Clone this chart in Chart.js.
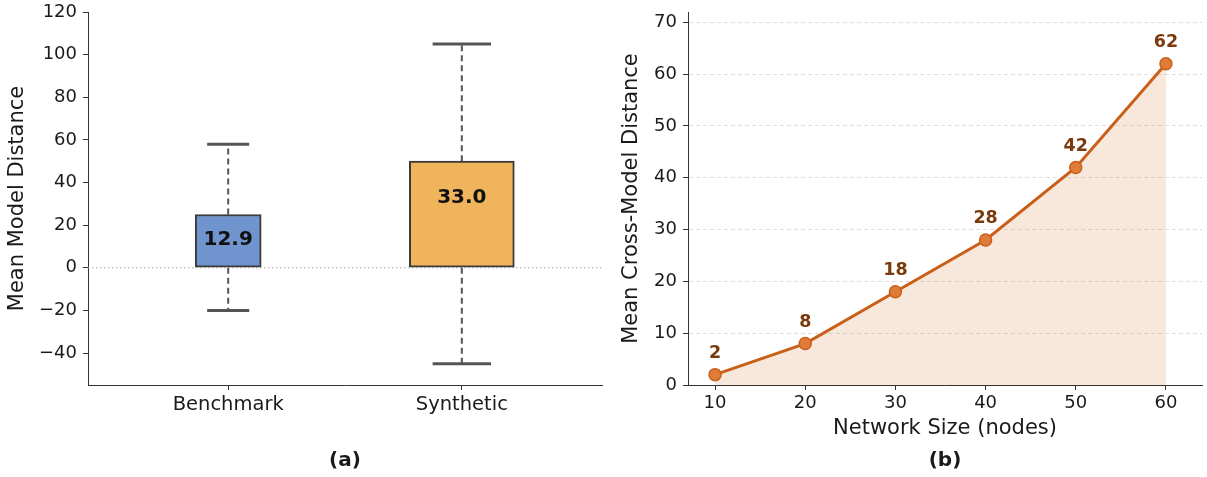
<!DOCTYPE html>
<html><head><meta charset="utf-8">
<script src="https://cdn.jsdelivr.net/npm/chart.js@4"></script>
<style>
html,body{margin:0;padding:0;background:#fff;}
#wrap{position:relative;width:1207px;height:477px;overflow:hidden;}
#c1{position:absolute;left:0;top:0;}
#c2{position:absolute;left:606px;top:0;}
</style></head><body>
<div id="wrap"><canvas id="c1" width="606" height="477"></canvas><canvas id="c2" width="601" height="477"></canvas></div>
<script>
// ---- Data: panel (a) ----
const groups = ['Benchmark', 'Synthetic'];
const boxLow = [0, 0];
const boxHigh = [25, 50];
const whiskerLow = [-20, -45];
const whiskerHigh = [58, 105];
const groupMeans = [12.9, 33.0];

// ---- Data: panel (b) ----
const networkSizes = [10, 20, 30, 40, 50, 60];
const crossModelDistance = [2, 8, 18, 28, 42, 62];

// ---- Styles ----
const FONT = "'DejaVu Sans', sans-serif";
const TXT = '#1a1a1a';
const boxColors = ['#7094CE', '#F0B45C'];
const boxPx = [66, 105];
const capHalf = [0.09, 0.125];
const tickFont = {family: FONT, size: 18};
const catFont = {family: FONT, size: 19.5};
const titleFont = {family: FONT, size: 21};

Chart.defaults.font.family = FONT;
Chart.defaults.animation = false;

const minusFmt = v => String(v).replace('-', '\u2212');
const noPadX = s => { s.height = 92; s.paddingLeft = 0; s.paddingRight = 0; };
const noPadY = w => s => { s.width = w; s.paddingTop = 0; s.paddingBottom = 0; };

const panelLabel = {
  id: 'panelLabel',
  afterDraw(chart, args, opts) {
    const {ctx, chartArea} = chart;
    ctx.save();
    ctx.font = 'bold 20px ' + FONT;
    ctx.fillStyle = TXT;
    ctx.textAlign = 'center';
    ctx.textBaseline = 'middle';
    ctx.fillText(opts.text, (chartArea.left + chartArea.right) / 2, chart.height - 16);
    ctx.restore();
  }
};

// ---- Panel (a) ----
const leftSets = [];
leftSets.push({
  type: 'line', data: [{x: -0.6, y: 0}, {x: 1.6, y: 0}],
  borderColor: '#aaaaaa', borderWidth: 1, borderDash: [1.5, 2.5],
  pointRadius: 0, fill: false, order: 10
});
groups.forEach((g, i) => {
  leftSets.push({
    type: 'line', data: [{x: i, y: boxHigh[i]}, {x: i, y: whiskerHigh[i]}],
    borderColor: '#555555', borderWidth: 2, borderDash: [6, 4], pointRadius: 0, fill: false, order: 5
  });
  leftSets.push({
    type: 'line', data: [{x: i, y: boxLow[i]}, {x: i, y: whiskerLow[i]}],
    borderColor: '#555555', borderWidth: 2, borderDash: [6, 4], pointRadius: 0, fill: false, order: 5
  });
  leftSets.push({
    type: 'line', data: [{x: i - capHalf[i], y: whiskerHigh[i]}, {x: i + capHalf[i], y: whiskerHigh[i]}],
    borderColor: '#555555', borderWidth: 3, pointRadius: 0, fill: false, order: 5
  });
  leftSets.push({
    type: 'line', data: [{x: i - capHalf[i], y: whiskerLow[i]}, {x: i + capHalf[i], y: whiskerLow[i]}],
    borderColor: '#555555', borderWidth: 3, pointRadius: 0, fill: false, order: 5
  });
  leftSets.push({
    type: 'bar', data: [{x: i, y: [boxLow[i], boxHigh[i]]}],
    backgroundColor: boxColors[i], borderColor: '#3a3a3a', borderWidth: 2,
    borderSkipped: false, barThickness: boxPx[i], grouped: false, order: 1
  });
});

const boxLabels = {
  id: 'boxLabels',
  afterDatasetsDraw(chart) {
    const {ctx, scales} = chart;
    ctx.save();
    ctx.font = 'bold 20px ' + FONT;
    ctx.fillStyle = '#111';
    ctx.textAlign = 'center';
    ctx.textBaseline = 'middle';
    groups.forEach((g, i) => {
      const yv = Math.min(groupMeans[i], boxHigh[i] - 8);
      ctx.fillText(groupMeans[i].toFixed(1), scales.x.getPixelForValue(i), scales.y.getPixelForValue(yv));
    });
    ctx.restore();
  }
};

new Chart(document.getElementById('c1'), {
  type: 'bar',
  data: {datasets: leftSets},
  plugins: [boxLabels, panelLabel],
  options: {
    responsive: false,
    devicePixelRatio: 1,
    layout: {autoPadding: false, padding: {top: 12, right: 4, bottom: 0, left: 0}},
    plugins: {legend: {display: false}, tooltip: {enabled: false}, panelLabel: {text: '(a)'}},
    scales: {
      x: {
        type: 'linear', min: -0.6, max: 1.6, offset: false,
        grid: {offset: false, drawOnChartArea: false, drawTicks: true, tickLength: 5, tickColor: '#333', tickWidth: 1},
        border: {color: '#333', width: 1},
        afterBuildTicks: s => { s.ticks = groups.map((g, i) => ({value: i})); },
        ticks: {callback: v => groups[v], font: catFont, color: TXT, padding: 3, maxRotation: 0, autoSkip: false},
        afterFit: noPadX
      },
      y: {
        type: 'linear', min: -55, max: 120,
        grid: {drawOnChartArea: false, drawTicks: true, tickLength: 5, tickColor: '#333', tickWidth: 1},
        border: {color: '#333', width: 1},
        ticks: {stepSize: 20, includeBounds: false, callback: minusFmt, font: tickFont, color: TXT, padding: 6},
        title: {display: true, text: 'Mean Model Distance', font: titleFont, color: TXT, padding: {top: 5, bottom: 0}},
        afterFit: noPadY(88)
      }
    }
  }
});

// ---- Panel (b) ----
const pointLabels = {
  id: 'pointLabels',
  afterDatasetsDraw(chart) {
    const {ctx} = chart;
    const meta = chart.getDatasetMeta(0);
    ctx.save();
    ctx.font = 'bold 17.5px ' + FONT;
    ctx.fillStyle = '#7B3A0C';
    ctx.textAlign = 'center';
    ctx.textBaseline = 'middle';
    meta.data.forEach((el, i) => {
      ctx.fillText(String(crossModelDistance[i]), el.x, el.y - 21);
    });
    ctx.restore();
  }
};

new Chart(document.getElementById('c2'), {
  type: 'line',
  data: {
    datasets: [{
      data: networkSizes.map((x, i) => ({x, y: crossModelDistance[i]})),
      borderColor: '#C8601A', borderWidth: 3,
      pointRadius: 6, pointBackgroundColor: '#E07B39', pointBorderColor: '#C8601A', pointBorderWidth: 1.5,
      fill: 'origin', backgroundColor: 'rgba(215,110,40,0.17)', tension: 0
    }]
  },
  plugins: [pointLabels, panelLabel],
  options: {
    responsive: false,
    devicePixelRatio: 1,
    layout: {autoPadding: false, padding: {top: 12, right: 5, bottom: 0, left: 0}},
    plugins: {legend: {display: false}, tooltip: {enabled: false}, panelLabel: {text: '(b)'}},
    scales: {
      x: {
        type: 'linear', min: 7, max: 64,
        grid: {drawOnChartArea: false, drawTicks: true, tickLength: 5, tickColor: '#333', tickWidth: 1},
        border: {color: '#333', width: 1},
        ticks: {stepSize: 10, includeBounds: false, font: tickFont, color: TXT, padding: 3, maxRotation: 0},
        title: {display: true, text: 'Network Size (nodes)', font: titleFont, color: TXT, padding: {top: 0, bottom: 36}},
        afterFit: noPadX
      },
      y: {
        type: 'linear', min: 0, max: 72,
        grid: {drawOnChartArea: true, color: 'rgba(0,0,0,0.13)', lineWidth: 1, drawTicks: true, tickLength: 5, tickColor: '#333', tickWidth: 1},
        border: {color: '#333', width: 1, dash: [4, 3]},
        ticks: {stepSize: 10, includeBounds: false, font: tickFont, color: TXT, padding: 6},
        title: {display: true, text: 'Mean Cross-Model Distance', font: titleFont, color: TXT, padding: {top: 13, bottom: 0}},
        afterFit: noPadY(82)
      }
    }
  }
});
</script>
</body></html>
